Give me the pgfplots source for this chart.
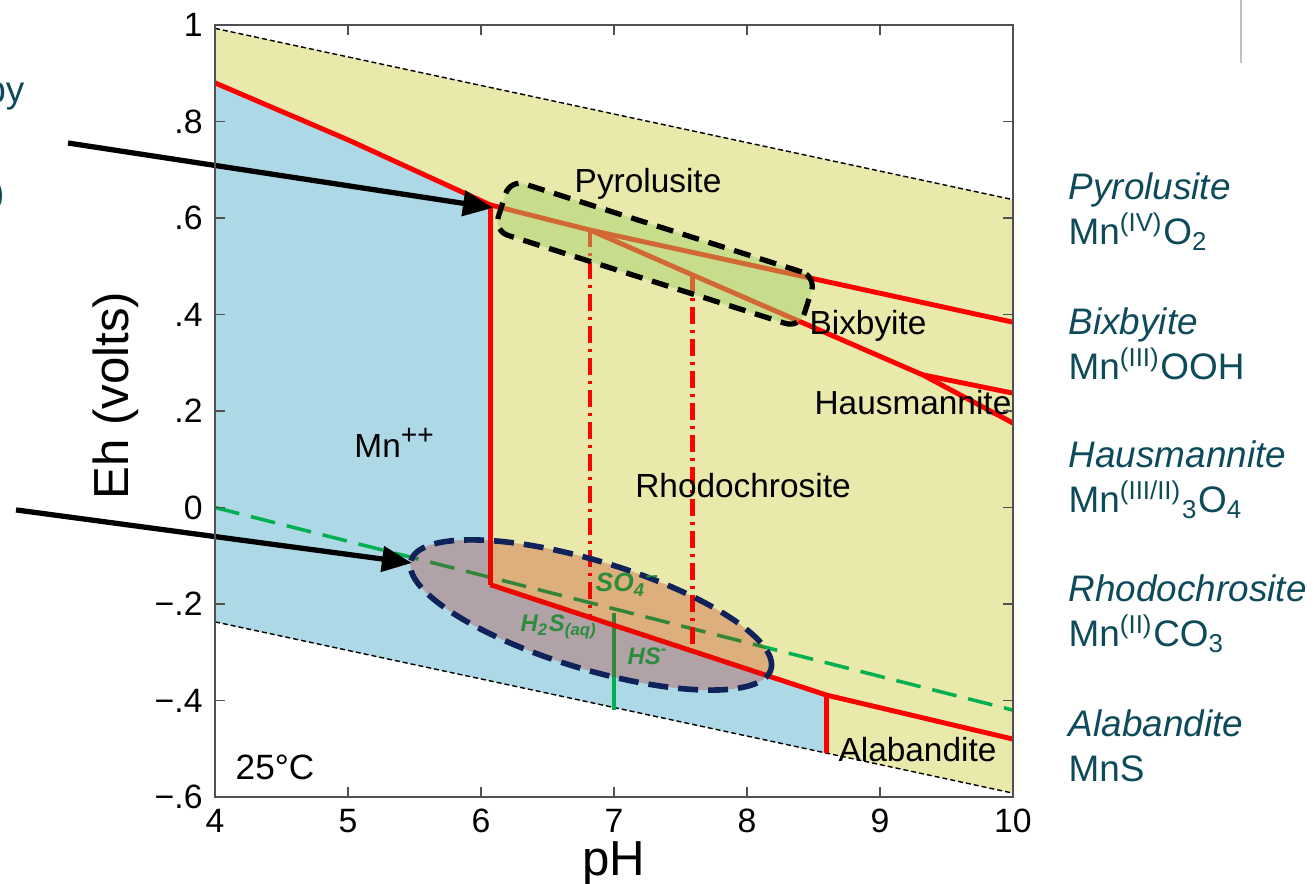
\documentclass[border=0pt]{standalone}
\usepackage{pgfplots}
\pgfplotsset{compat=1.18}
\usepackage{fontspec}
\setmainfont{Liberation Sans}
\usetikzlibrary{arrows.meta,shapes.geometric}
\definecolor{yel}{RGB}{233,233,172}
\definecolor{blu}{RGB}{173,216,230}
\definecolor{grn}{RGB}{0,175,80}
\definecolor{tealtxt}{RGB}{14,75,90}
\definecolor{navyb}{RGB}{15,35,90}
\definecolor{rectg}{RGB}{167,211,107}
\definecolor{ellc}{RGB}{190,20,0}
\definecolor{txtg}{RGB}{45,140,60}
\definecolor{axgray}{RGB}{80,80,80}
\begin{document}
\begin{tikzpicture}
\useasboundingbox (-2.15,-0.87) rectangle (10.99,7.97);
\clip (-2.15,-0.87) rectangle (10.99,7.97);
\begin{axis}[
  at={(0,0)}, anchor=south west,
  scale only axis, width=7.98cm, height=7.72cm,
  xmin=4, xmax=10, ymin=-0.6, ymax=1,
  xtick={4,5,6,7,8,9,10},
  xticklabels={4,5,6,7,8,9,10},
  ytick={-0.6,-0.4,-0.2,0,0.2,0.4,0.6,0.8,1},
  yticklabels={−.6,−.4,−.2,0,.2,.4,.6,.8,1},
  tick label style={font=\fontsize{9.6}{11}\selectfont},
  major tick length=0.1cm,
  tick style={axgray, line width=0.5pt},
  axis line style={axgray, line width=0.7pt},
  clip=false,
  axis on top,
]
% stability field of water (yellow background)
\addplot[fill=yel, draw=none] coordinates {(4,0.993) (10,0.638) (10,-0.592) (4,-0.237)} -- cycle;
% Mn++ field
\addplot[fill=blu, draw=none] coordinates {(4,0.88) (5,0.762) (6.07,0.627) (6.07,-0.16) (8.6,-0.389) (8.6,-0.509) (4,-0.237)} -- cycle;
% water limits
\addplot[black, line width=0.4pt, dash pattern=on 0.05cm off 0.03cm] coordinates {(4,0.993) (10,0.638)};
\addplot[black, line width=0.4pt, dash pattern=on 0.05cm off 0.03cm] coordinates {(4,-0.237) (10,-0.592)};
% sulfur boundaries
\addplot[grn, line width=1pt, dash pattern=on 0.25cm off 0.12cm] coordinates {(4,0.0) (10,-0.42)};
\addplot[grn, line width=1pt] coordinates {(7,-0.219) (7,-0.42)};
% Mn boundaries
\addplot[red, line width=1.4pt] coordinates {(4,0.88) (5,0.762) (6.07,0.627)};
\addplot[red, line width=1.3pt] coordinates {(6.07,0.627) (6.07,-0.16)};
\addplot[red, line width=1.4pt] coordinates {(6.07,-0.16) (8.6,-0.389) (10,-0.48)};
\addplot[red, line width=1.4pt] coordinates {(8.6,-0.389) (8.6,-0.509)};
\addplot[red, line width=1.4pt] coordinates {(6.07,0.627) (6.82,0.575) (10,0.384)};
\addplot[red, line width=1.4pt] coordinates {(6.82,0.575) (7.59,0.482) (9.32,0.275) (10,0.175)};
\addplot[red, line width=1.4pt] coordinates {(9.32,0.275) (10,0.237)};
% dash-dot verticals
\addplot[red, line width=1.3pt, dash pattern=on 0.17cm off 0.06cm on 0.03cm off 0.06cm] coordinates {(6.82,0.575) (6.82,-0.225)};
\addplot[red, line width=1.3pt, dash pattern=on 0.17cm off 0.06cm on 0.03cm off 0.06cm] coordinates {(7.59,0.482) (7.59,-0.297)};
% highlight shapes
\node[draw=black, line width=1.5pt, dash pattern=on 0.17cm off 0.1cm, fill=rectg, fill opacity=0.5, draw opacity=1,
  rounded corners=0.15cm, minimum width=3.21cm, minimum height=0.54cm, inner sep=0, rotate=-17.6]
  at (axis cs:7.308,0.526) {};
\node[ellipse, draw=navyb, line width=1.6pt, dash pattern=on 0.2cm off 0.1cm, fill=ellc, fill opacity=0.27, draw opacity=1,
  minimum width=3.76cm, minimum height=1.08cm, inner sep=0, rotate=-16.85]
  at (axis cs:6.827,-0.2228) {};
% region labels
\begin{scope}[every node/.style={font=\fontsize{9.5}{11}\selectfont, inner sep=0}]
\node[anchor=base] at (axis cs:7.256,0.652) {Pyrolusite};
\node[anchor=base] at (axis cs:8.91,0.3575) {Bixbyite};
\node[anchor=base] at (axis cs:9.248,0.1917) {Hausmannite};
\node[anchor=base] at (axis cs:7.97,0.0197) {Rhodochrosite};
\node[anchor=base] at (axis cs:5.353,0.1026) {Mn\textsuperscript{\fontsize{8}{9}\selectfont ++}};
\node[anchor=base] at (axis cs:9.282,-0.527) {Alabandite};
\node[anchor=base, font=\fontsize{10}{12}\selectfont] at (axis cs:4.451,-0.563) {25°C};
\end{scope}
\node[anchor=base west, inner sep=0, text=txtg, font=\fontsize{7.5}{9}\selectfont\bfseries\itshape] at (axis cs:6.857,-0.175) {SO\textsubscript{4}\textsuperscript{-{}-}};
\node[anchor=base west, inner sep=0, text=txtg, font=\fontsize{6.8}{8}\selectfont\bfseries\itshape] at (axis cs:6.293,-0.258) {H\textsubscript{2}S\textsubscript{(aq)}};
\node[anchor=base west, inner sep=0, text=txtg, font=\fontsize{6.8}{8}\selectfont\bfseries\itshape] at (axis cs:7.098,-0.326) {HS\textsuperscript{-}};
% arrows
\draw[black, line width=1.5pt, -{Triangle[length=0.3cm, width=0.25cm]}] (axis cs:2.895,0.7554) -- (axis cs:6.09,0.621);
\draw[black, line width=1.5pt, -{Triangle[length=0.3cm, width=0.25cm]}] (axis cs:2.504,-0.005) -- (axis cs:5.481,-0.115);
% axis titles
\node[font=\fontsize{14}{16}\selectfont, rotate=90] at (axis description cs:-0.124,0.52) {Eh (volts)};
\node[font=\fontsize{14}{16}\selectfont] at (axis description cs:0.5,-0.086) {pH};
\end{axis}
% right-hand legend text
\begin{scope}[every node/.style={anchor=base west, inner sep=0, text=tealtxt, font=\fontsize{10.5}{12}\selectfont}]
\node at (8.53,5.97) {\textit{Pyrolusite}};
\node at (8.53,5.52) {Mn\textsuperscript{(IV)}O\textsubscript{2}};
\node at (8.53,4.62) {\textit{Bixbyite}};
\node at (8.53,4.17) {Mn\textsuperscript{(III)}OOH};
\node at (8.53,3.29) {\textit{Hausmannite}};
\node at (8.53,2.84) {Mn\textsuperscript{(III/II)}\textsubscript{3}O\textsubscript{4}};
\node at (8.53,1.95) {\textit{Rhodochrosite}};
\node at (8.53,1.50) {Mn\textsuperscript{(II)}CO\textsubscript{3}};
\node at (8.53,0.60) {\textit{Alabandite}};
\node at (8.53,0.15) {MnS};
\end{scope}
% fragments of text cut at the left edge
\node[anchor=base east, inner sep=0, text=tealtxt, font=\fontsize{10.5}{12}\selectfont] at (-1.90,6.94) {by};
\node[anchor=base east, inner sep=0, text=tealtxt, font=\fontsize{10.5}{12}\selectfont] at (-2.10,5.91) {)};
\draw[gray!50, line width=0.6pt] (10.26,7.97) -- (10.26,7.34);
\end{tikzpicture}
\end{document}
